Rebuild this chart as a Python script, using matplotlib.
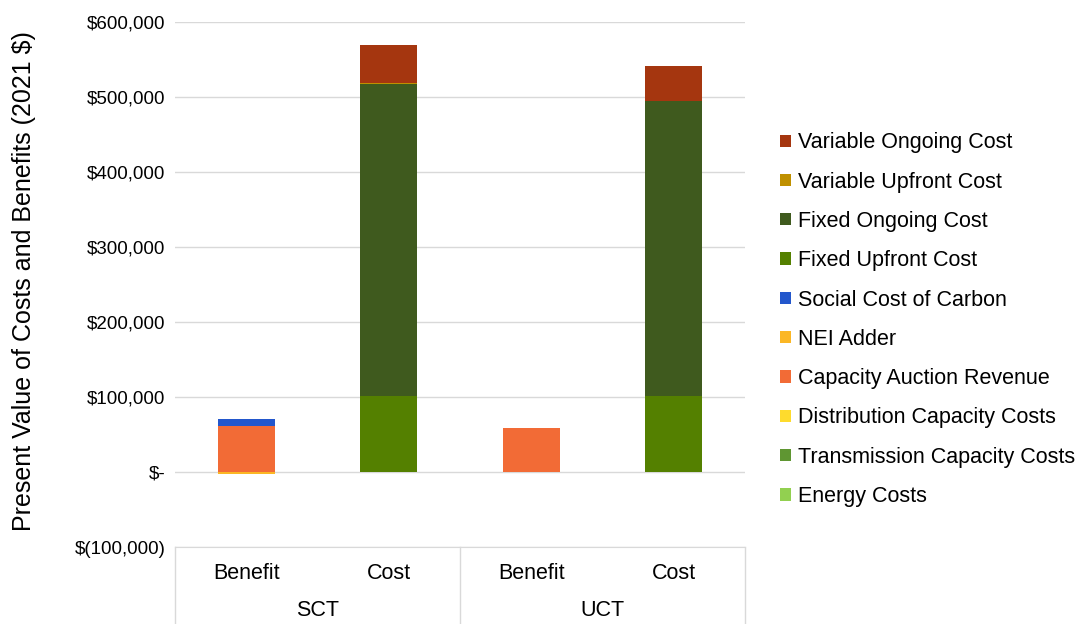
import numpy as np
import matplotlib.pyplot as plt
from matplotlib.ticker import FuncFormatter

plt.rcParams['font.family'] = ['Liberation Sans', 'DejaVu Sans']

bars = ["Benefit", "Cost", "Benefit", "Cost"]
groups = ["SCT", "UCT"]

# stacking order bottom -> top
series = ["Energy Costs", "Transmission Capacity Costs", "Distribution Capacity Costs",
          "Capacity Auction Revenue", "NEI Adder", "Social Cost of Carbon",
          "Fixed Upfront Cost", "Fixed Ongoing Cost", "Variable Upfront Cost",
          "Variable Ongoing Cost"]
colors = ["#92D050", "#5F9632", "#FEDB2D", "#F26B36", "#FBB725", "#2357CC",
          "#548000", "#3F5A1E", "#BF9000", "#A5360F"]

energy = [0, 0, 0, 0]
transmission = [0, 0, 0, 0]
distribution = [0, 0, 0, 0]
capacity_auction = [61700, 0, 58700, 0]
nei_adder = [-2500, 0, 0, 0]
social_carbon = [8600, 0, 0, 0]
fixed_upfront = [0, 101000, 0, 101000]
fixed_ongoing = [0, 416000, 0, 393700]
variable_upfront = [0, 1800, 0, 0]
variable_ongoing = [0, 50200, 0, 47000]

values = [energy, transmission, distribution, capacity_auction, nei_adder,
          social_carbon, fixed_upfront, fixed_ongoing, variable_upfront, variable_ongoing]

fig = plt.figure(figsize=(10.88, 6.24), dpi=100)
ax = fig.add_axes([175 / 1088, 77 / 624, 570 / 1088, 525 / 624])

x = np.arange(len(bars))
pos_base = np.zeros(len(bars))
neg_base = np.zeros(len(bars))
handles = []
for name, vals, c in zip(series, values, colors):
    vals = np.array(vals, dtype=float)
    bottom = np.where(vals >= 0, pos_base, neg_base)
    h = ax.bar(x, vals, 0.4, bottom=bottom, color=c, label=name, zorder=3)
    handles.append(h)
    pos_base += np.where(vals >= 0, vals, 0)
    neg_base += np.where(vals < 0, vals, 0)

ax.set_xlim(-0.5, 3.5)
ax.set_ylim(-100000, 600000)
ax.set_yticks(np.arange(-100000, 600001, 100000))


def money(v, pos):
    if v == 0:
        return "$-"
    if v < 0:
        return "$({:,.0f})".format(-v)
    return "${:,.0f}".format(v)


ax.yaxis.set_major_formatter(FuncFormatter(money))
ax.tick_params(axis='y', length=0, labelsize=13.5, pad=7)
ax.tick_params(axis='x', length=0, labelbottom=False)
ax.grid(axis='y', color='#D9D9D9', linewidth=1, zorder=0)
for s in ["top", "right", "left"]:
    ax.spines[s].set_visible(False)
ax.spines["bottom"].set_color('#D9D9D9')

ax.set_ylabel("Present Value of Costs and Benefits (2021 $)", fontsize=18)
ax.yaxis.set_label_coords(-139 / 570, 0.5 + 3 / 525)

# category table below the axis
tr = ax.get_xaxis_transform()
for i, lab in enumerate(bars):
    ax.text(i, -0.05, lab, transform=tr, ha='center', va='center', fontsize=15.5)
for j, g in enumerate(groups):
    ax.text(2 * j + 0.5, -0.12, g, transform=tr, ha='center', va='center', fontsize=15.5)
for xv in [-0.5, 1.5, 3.5]:
    ax.plot([xv, xv], [0, -0.16], transform=tr, color='#D9D9D9', lw=1, clip_on=False)

leg = fig.legend(handles[::-1], series[::-1], loc='upper left',
                 bbox_to_anchor=(761 / 1088, 1 - 113 / 624), frameon=False,
                 fontsize=15.5, handlelength=0.5, handleheight=0.5,
                 handletextpad=0.3, labelspacing=0.85)

fig.savefig("out.png", dpi=100)
